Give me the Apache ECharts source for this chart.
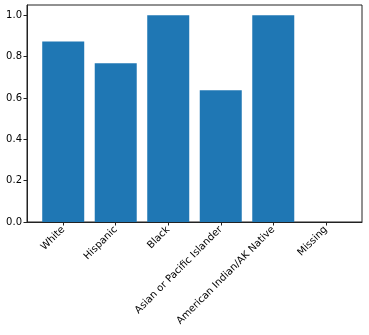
<!DOCTYPE html>
<html lang="en">
<head>
    <meta charset="UTF-8">
    <title>bar</title>
    <script src="https://cdn.jsdelivr.net/npm/echarts@6/dist/echarts.min.js"></script>
    <style>
        html, body { margin: 0; padding: 0; background: #fff; }
    </style>
</head>
<body>
    <div id="chart" style="width:369px;height:335px;"></div>
</body>
<script>
    // categories and values
    const categories = ['White', 'Hispanic', 'Black', 'Asian or Pacific Islander', 'American Indian/AK Native', 'Missing'];
    const values = [0.873, 0.768, 1.0, 0.638, 1.0, 0];
    const yTicks = [0, 0.2, 0.4, 0.6, 0.8, 1.0];
    const xTicks = categories.map((c, i) => i);

    var chart = echarts.init(document.getElementById('chart'));

    var options = {
        animation: false,
        backgroundColor: '#ffffff',
        grid: {
            left: 27, right: 7, top: 5, bottom: 113,
            show: true, borderColor: '#222', borderWidth: 1
        },
        xAxis: {
            type: 'value',
            min: -0.69,
            max: 5.69,
            splitLine: { show: false },
            axisLine: { show: true, onZero: false, lineStyle: { color: '#222' } },
            axisTick: { show: true, customValues: xTicks, length: 3.5, lineStyle: { color: '#222' } },
            axisLabel: {
                customValues: xTicks,
                rotate: 45,
                margin: 6,
                color: '#000',
                fontFamily: 'DejaVu Sans',
                fontSize: 10,
                formatter: v => categories[Math.round(v)]
            }
        },
        yAxis: {
            type: 'value',
            min: 0,
            max: 1.05,
            splitLine: { show: false },
            axisLine: { show: true, onZero: false, lineStyle: { color: '#222' } },
            axisTick: { show: true, customValues: yTicks, length: 3.5, lineStyle: { color: '#222' } },
            axisLabel: {
                customValues: yTicks,
                margin: 5,
                color: '#000',
                fontFamily: 'DejaVu Sans',
                fontSize: 10,
                formatter: v => v.toFixed(1)
            }
        },
        series: [{
            type: 'bar',
            barWidth: 42,
            itemStyle: { color: '#1f77b4' },
            data: values.map((v, i) => [i, v])
        }]
    };
    chart.setOption(options);
</script>
</html>
